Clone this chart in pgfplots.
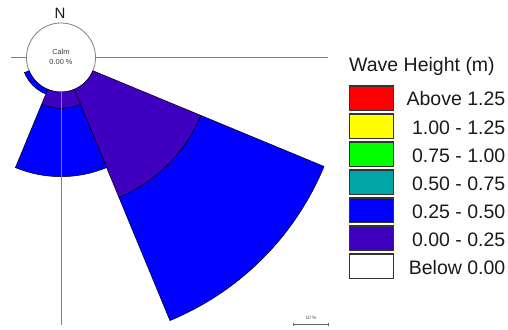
\documentclass[border=0pt]{standalone}
\usepackage{pgfplots}
\pgfplotsset{compat=1.18}
\usepackage{pgfplotstable}
\usepackage{fontspec}
\setmainfont{Liberation Sans}

\definecolor{hDark}{RGB}{64,0,192}
\definecolor{hBlue}{RGB}{0,0,255}
\definecolor{hTeal}{RGB}{0,166,166}
\definecolor{hGreen}{RGB}{0,255,0}
\definecolor{hYellow}{RGB}{255,255,0}
\definecolor{hRed}{RGB}{255,0,0}
\definecolor{axgray}{RGB}{128,128,128}
\definecolor{txt}{RGB}{26,26,26}

% Frequency of occurrence (%) per 45-degree direction sector,
% split by wave height class (0.00-0.25 m and 0.25-0.50 m)
\pgfplotstableread{
dir  start  end    low   mid
SE   112.5  157.5  34.4  39.2
S    157.5  202.5  4.8   20.1
SW   202.5  247.5  0.0   1.5
}\wavedata

\def\calm{10.15}   % radius of the calm circle, in percent units
\def\axlen{68.4}   % length of the radial axes beyond the calm circle

% annular sector between two radii, bearings measured clockwise from north
\newcommand\sector[5]{%
  \pgfmathtruncatemacro\ok{(#5>#4+0.001)}%
  \ifnum\ok=1
    \fill[#1, draw=black, line width=0.5pt]
      (axis cs:{#4*cos(90-#2)},{#4*sin(90-#2)})
      arc[start angle={90-#2}, end angle={90-#3}, radius=#4]
      -- (axis cs:{#5*cos(90-#3)},{#5*sin(90-#3)})
      arc[start angle={90-#3}, end angle={90-#2}, radius=#5] -- cycle;
  \fi}

\begin{document}
\begin{tikzpicture}
\begin{axis}[
  anchor=origin, at={(0pt,0pt)},
  x=3.4pt, y=3.4pt,
  xmin=-20, xmax=90, ymin=-90, ymax=20,
  hide axis, clip=false,
]
  % calm circle
  \draw[axgray, line width=0.8pt, fill=white] (axis cs:0,0) circle[radius=\calm];

  % stacked sectors
  \pgfplotsinvokeforeach{0,1,2}{%
    \pgfplotstablegetelem{#1}{start}\of\wavedata \let\bS\pgfplotsretval
    \pgfplotstablegetelem{#1}{end}\of\wavedata \let\bE\pgfplotsretval
    \pgfplotstablegetelem{#1}{low}\of\wavedata \pgfmathsetmacro\rB{\calm+\pgfplotsretval}
    \pgfplotstablegetelem{#1}{mid}\of\wavedata \pgfmathsetmacro\rC{\rB+\pgfplotsretval}
    \edef\next{%
      \noexpand\sector{hDark}{\bS}{\bE}{\calm}{\rB}%
      \noexpand\sector{hBlue}{\bS}{\bE}{\rB}{\rC}%
    }\next
  }

  % radial axes with 10 % ticks
  \draw[axgray, line width=0.8pt] (axis cs:\calm,0) -- (axis cs:{\calm+\axlen},0);
  \draw[axgray, line width=0.8pt] (axis cs:0,-\calm) -- (axis cs:0,{-\calm-\axlen});
  \draw[axgray, line width=0.8pt] (axis cs:-\calm,0) -- (axis cs:-14.7,0);
  \pgfplotsinvokeforeach{10,20,30,40,50,60}{%
    \draw[black!65, line width=0.8pt] (axis cs:{\calm+#1},0) ++(0,-1.6pt) -- ++(0,3.2pt);
    \draw[black!65, line width=0.8pt] (axis cs:0,{-\calm-#1}) ++(-1.6pt,0) -- ++(3.2pt,0);
  }
\end{axis}

% labels (picture units: 1pt per pixel, origin at the rose centre)
\node[font=\fontsize{15}{16}\selectfont, text=txt] at (-1pt,44.5pt) {N};
\node[font=\fontsize{7.4}{8}\selectfont, text=black!75] at (0pt,5.5pt) {Calm};
\node[font=\fontsize{7.4}{8}\selectfont, text=black!75] at (0pt,-4.5pt) {0.00 \%};

% scale bar
\draw[black!60, line width=0.8pt] (232pt,-266.5pt) -- (267pt,-266.5pt);
\draw[black!60, line width=0.6pt] (232pt,-265pt) -- (232pt,-268pt) (267pt,-265pt) -- (267pt,-268pt);
\node[font=\fontsize{4.8}{5}\selectfont, text=black!70] at (250pt,-260.5pt) {10 \%};

% legend
\node[anchor=base west, font=\fontsize{19.5}{22}\selectfont, text=txt, inner sep=0pt]
  at (288pt,-14.5pt) {Wave Height (m)};
\foreach \c/\l [count=\i from 0] in
  {hRed/Above 1.25, hYellow/1.00 - 1.25, hGreen/0.75 - 1.00, hTeal/0.50 - 0.75,
   hBlue/0.25 - 0.50, hDark/0.00 - 0.25, white/Below 0.00}{
  \fill[\c, draw=black!80, line width=1.4pt]
    (288.5pt,{-28.5pt-28*\i pt}) rectangle (332.5pt,{-53pt-28*\i pt});
  \node[anchor=base east, font=\fontsize{19.5}{22}\selectfont, text=txt, inner sep=0pt]
    at (444.5pt,{-48.5pt-28*\i pt}) {\l};
}

\pgfresetboundingbox
\useasboundingbox (-61pt,57.5pt) rectangle (447pt,-271.5pt);
\end{tikzpicture}
\end{document}
